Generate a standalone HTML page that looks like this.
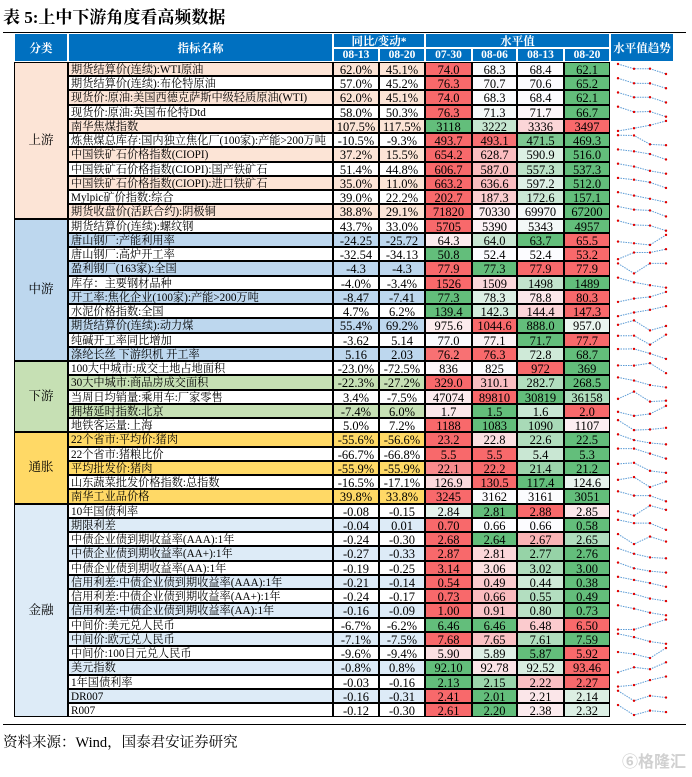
<!DOCTYPE html>
<html><head><meta charset="utf-8">
<style>
html,body{margin:0;padding:0;background:#fff;}
body{width:692px;height:777px;position:relative;overflow:hidden;font-family:"Liberation Serif","Noto Serif CJK SC",serif;}
.abs{position:absolute;box-sizing:border-box;}
.c{position:absolute;box-sizing:border-box;border:0.5px solid #000;font-size:12.5px;line-height:15px;white-space:nowrap;overflow:hidden;text-align:center;color:#000;}
.h{position:absolute;box-sizing:border-box;background:#0070C0;color:#fff;font-weight:bold;font-size:11.5px;text-align:center;border:0.5px solid #fff;display:flex;align-items:center;justify-content:center;font-family:"Liberation Serif","Noto Serif CJK SC",serif;}
</style></head>
<body>
<div class="abs" style="left:3px;top:3px;font-size:17px;font-weight:bold;font-family:'Liberation Serif','Noto Serif CJK SC',serif;">表 5:上中下游角度看高频数据</div>
<div class="abs" style="left:3px;top:31.5px;width:683px;height:1.5px;background:#000;"></div>
<div class="abs" style="left:3px;top:723.5px;width:683px;height:1.5px;background:#000;"></div>
<div class="abs" style="left:3px;top:731px;font-size:14.5px;">资料来源：Wind，国泰君安证券研究</div>
<div class="abs" style="left:622px;top:748px;font-size:16px;color:#d0d0d0;font-family:'Noto Sans CJK SC',sans-serif;font-weight:bold;">⑥格隆汇</div>
<div id="tbl"></div>
<svg id="spark" class="abs" style="left:0;top:0;" width="692" height="777"></svg>
<script>
const groups=["上游","中游","下游","通胀","金融"];
const groupSizes=[11,10,5,5,15];
const groupFill=["#FCE4D6","#BDD7EE","#C6E0B4","#FFD966","#DDEBF7"];
const names=["期货结算价(连续):WTI原油","期货结算价(连续):布伦特原油","现货价:原油:美国西德克萨斯中级轻质原油(WTI)","现货价:原油:英国布伦特Dtd","南华焦煤指数","炼焦煤总库存:国内独立焦化厂(100家):产能>200万吨","中国铁矿石价格指数(CIOPI)","中国铁矿石价格指数(CIOPI):国产铁矿石","中国铁矿石价格指数(CIOPI):进口铁矿石","Mylpic矿价指数:综合","期货收盘价(活跃合约):阴极铜",
"期货结算价(连续):螺纹钢","唐山钢厂:产能利用率","唐山钢厂:高炉开工率","盈利钢厂(163家):全国","库存：主要钢材品种","开工率:焦化企业(100家):产能>200万吨","水泥价格指数:全国","期货结算价(连续):动力煤","纯碱开工率同比增加","涤纶长丝 下游织机 开工率",
"100大中城市:成交土地占地面积","30大中城市:商品房成交面积","当周日均销量:乘用车:厂家零售","拥堵延时指数:北京","地铁客运量:上海",
"22个省市:平均价:猪肉","22个省市:猪粮比价","平均批发价:猪肉","山东蔬菜批发价格指数:总指数","南华工业品价格",
"10年国债利率","期限利差","中债企业债到期收益率(AAA):1年","中债企业债到期收益率(AA+):1年","中债企业债到期收益率(AA):1年","信用利差:中债企业债到期收益率(AAA):1年","信用利差:中债企业债到期收益率(AA+):1年","信用利差:中债企业债到期收益率(AA):1年","中间价:美元兑人民币","中间价:欧元兑人民币","中间价:100日元兑人民币","美元指数","1年国债利率","DR007","R007"];
const yoy0813=["62.0%","57.0%","62.0%","58.0%","107.5%","-10.5%","37.2%","51.4%","35.0%","39.0%","38.8%","43.7%","-24.25","-32.54","-4.3","-4.0%","-8.47","4.7%","55.4%","-3.62","5.16","-23.0%","-22.3%","3.4%","-7.4%","5.0%","-55.6%","-66.7%","-55.9%","-16.5%","39.8%","-0.08","-0.04","-0.24","-0.27","-0.19","-0.21","-0.24","-0.16","-6.7%","-7.1%","-9.6%","-0.8%","-0.03","-0.16","-0.12"];
const yoy0820=["45.1%","45.2%","45.1%","50.3%","117.5%","-9.3%","15.5%","44.8%","11.0%","22.2%","29.1%","33.0%","-25.72","-34.13","-4.3","-3.4%","-7.41","6.2%","69.2%","5.14","2.03","-72.5%","-27.2%","-7.5%","6.0%","7.2%","-56.6%","-66.8%","-55.9%","-17.1%","33.8%","-0.15","0.01","-0.30","-0.33","-0.25","-0.14","-0.17","-0.09","-6.2%","-7.5%","-9.4%","0.8%","-0.16","-0.31","-0.30"];
const lv0730=["74.0","76.3","74.0","76.3","3118","493.7","654.2","606.7","663.2","202.7","71820","5705","64.3","50.8","77.9","1526","77.3","139.4","975.6","77.0","76.2","836","329.0","47074","1.7","1188","23.2","5.5","22.1","126.9","3245","2.84","0.70","2.68","2.87","3.14","0.54","0.73","1.00","6.46","7.68","5.90","92.10","2.13","2.41","2.61"];
const lv0806=["68.3","70.7","68.3","71.3","3222","493.1","628.7","587.0","636.6","187.3","70330","5390","64.0","52.4","77.3","1509","78.3","142.3","1044.6","77.1","76.3","825","310.1","89810","1.5","1083","22.8","5.5","22.2","130.5","3162","2.81","0.66","2.64","2.81","3.06","0.49","0.66","0.91","6.46","7.65","5.89","92.78","2.15","2.01","2.20"];
const lv0813=["68.4","70.6","68.4","71.7","3336","471.5","590.9","557.3","597.2","172.6","69970","5343","63.7","52.4","77.9","1498","78.8","144.4","888.0","71.7","72.8","972","282.7","30819","1.6","1090","22.6","5.4","21.4","117.4","3161","2.88","0.66","2.67","2.77","3.02","0.44","0.55","0.80","6.48","7.61","5.87","92.52","2.22","2.21","2.38"];
const lv0820=["62.1","65.2","62.1","66.7","3497","469.3","516.0","537.3","512.0","157.1","67200","4957","65.5","53.2","77.9","1489","80.3","147.3","957.0","77.7","68.7","369","268.5","36158","2.0","1107","22.5","5.3","21.2","124.6","3051","2.85","0.58","2.65","2.76","3.00","0.38","0.49","0.73","6.50","7.59","5.92","93.46","2.27","2.14","2.32"];

const T=document.getElementById('tbl');
const RH=14.245, Y0=62;
const X=[14,68,333,379,425,472,517,564,610,674];
function cell(cls,x,y,w,h,txt,style){const d=document.createElement('div');d.className=cls;d.style.left=x+'px';d.style.top=y+'px';d.style.width=w+'px';d.style.height=h+'px';if(style)d.style.cssText+=style;d.textContent=txt;T.appendChild(d);return d;}
let e;
e=cell('h',X[0],33,X[1]-X[0],29,'分类');


e=cell('h',X[1],33,X[2]-X[1],29,'指标名称');


e=cell('h',X[2],33,X[4]-X[2],15,'同比/变动*');


e=cell('h',X[4],33,X[8]-X[4],15,'水平值');


e=cell('h',X[8],33,X[9]-X[8],29,'水平值趋势');


const subs=["08-13","08-20","07-30","08-06","08-13","08-20"];
for(let i=0;i<6;i++){e=cell('h',X[2+i],48,X[3+i]-X[2+i],14,subs[i]);

}
function mix(a,b,t){const p=s=>[parseInt(s.substr(1,2),16),parseInt(s.substr(3,2),16),parseInt(s.substr(5,2),16)];const A=p(a),B=p(b);return 'rgb('+A.map((v,i)=>Math.round(v+(B[i]-v)*t)).join(',')+')';}
function heat(v,vals){const s=[...vals].sort((a,b)=>a-b);const mn=s[0],mx=s[3],md=(s[1]+s[2])/2;
 if(v>=md){if(mx===md)return v===mn&&mn===mx?'#FCFCFF':'#F8696B';return mix('#FCFCFF','#F8696B',(v-md)/(mx-md));}
 if(md===mn)return '#FCFCFF';return mix('#FCFCFF','#63BE7B',(md-v)/(md-mn));}
const svg=document.getElementById('spark');const NS='http://www.w3.org/2000/svg';
const SX=[618,634,650,666];
let r=0;
groups.forEach((g,gi)=>{
 const gy=Y0+r*RH,gh=groupSizes[gi]*RH;
 e=cell('c',X[0],gy,X[1]-X[0],gh,g,'background:'+groupFill[gi]+';display:flex;align-items:center;justify-content:center;font-size:12.5px;');
 
 
 for(let k=0;k<groupSizes[gi];k++,r++){
  const y=Y0+r*RH;
  const rowBg=(gi===0||gi===3)?(k%2===0?groupFill[gi]:'#fff'):(k%2===1?groupFill[gi]:'#fff');
  e=cell('c',X[1],y,X[2]-X[1],RH,names[r],'background:'+rowBg+';text-align:left;padding-left:2px;font-size:11.2px;');
  
  
  e=cell('c',X[2],y,X[3]-X[2],RH,yoy0813[r],'background:'+rowBg);
  
  
  e=cell('c',X[3],y,X[4]-X[3],RH,yoy0820[r],'background:'+rowBg);
  
  
  const strs=[lv0730[r],lv0806[r],lv0813[r],lv0820[r]];const vals=strs.map(parseFloat);
  for(let j=0;j<4;j++){e=cell('c',X[4+j],y,X[5+j]-X[4+j],RH,strs[j],'background:'+heat(vals[j],vals));
   
   }
  const mn=Math.min(...vals),mx=Math.max(...vals);
  const py=v=>mx===mn?y+7:y+2+(mx-v)/(mx-mn)*10;
  const pl=document.createElementNS(NS,'polyline');
  pl.setAttribute('points',vals.map((v,j)=>SX[j]+','+py(v)).join(' '));
  pl.setAttribute('fill','none');pl.setAttribute('stroke','#5B9BD5');pl.setAttribute('stroke-width','1');pl.setAttribute('stroke-dasharray','1.5,1');
  
  
  svg.appendChild(pl);
  vals.forEach((v,j)=>{const c=document.createElementNS(NS,'circle');c.setAttribute('cx',SX[j]);c.setAttribute('cy',py(v));c.setAttribute('r','1.2');c.setAttribute('fill','#E00000');
   
   
   svg.appendChild(c);});
 }
});
</script>
</body></html>
